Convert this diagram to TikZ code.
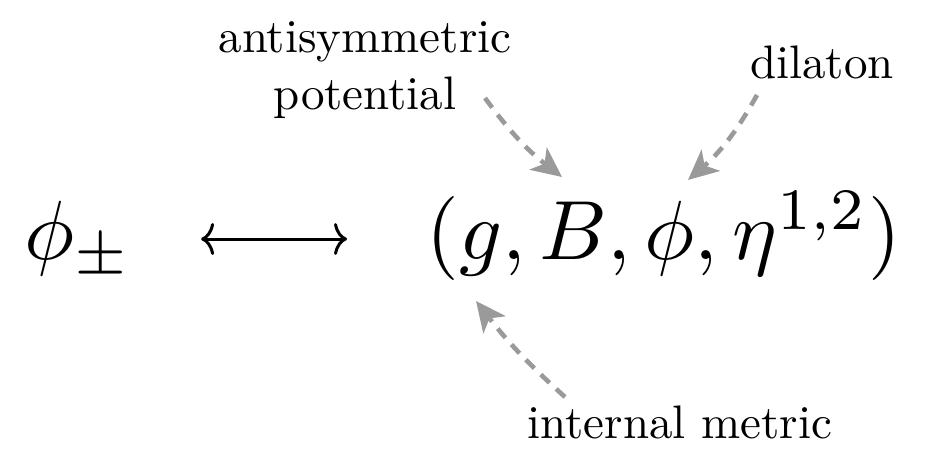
\documentclass[tikz,border=0pt]{standalone}
\usetikzlibrary{arrows.meta}
\definecolor{pgray}{HTML}{9A9A9A}

\begin{document}
\begin{tikzpicture}[x=1pt, y=1pt,
    tag/.style={align=center, inner sep=0pt, scale=4.7, transform shape},
    big/.style={inner sep=0pt, anchor=base west, scale=8.4, transform shape},
    dual/.style={{Computer Modern Rightarrow[length=13pt, width=32pt]}-{Computer Modern Rightarrow[length=13pt, width=32pt]}, line width=3pt},
    pointer/.style={-{Stealth[length=30pt, width=28pt, inset=8pt]}, line width=4.6pt, draw=pgray, dash pattern=on 12pt off 9pt}
  ]
    \useasboundingbox (0,0) rectangle (935,448);
    \node[big] (field) at (23,188) {$\phi_\pm$};
    \node[big] (tuple) at (425,188) {$(g,B,\phi,\eta^{1,2})$};
    \node[tag] (antisym) at (365,378) {antisymmetric\\potential};
    \node[tag] (dil) at (822,386) {dilaton};
    \node[tag] (intern) at (680,26) {internal metric};
    \coordinate (Bhead) at (562,271);
    \coordinate (phihead) at (688,268);
    \coordinate (ghead) at (476,147);
    \draw[dual] ([shift={(68,21)}]field.base east) -- ([shift={(-78,21)}]tuple.base west);
    \draw[pointer] ([shift={(120,-28)}]antisym.center) to[bend right=8] (Bhead);
    \draw[pointer] ([shift={(-65,-33)}]dil.center) to[bend left=10] (phihead);
    \draw[pointer] ([shift={(-115,25)}]intern.center) to[bend left=5] (ghead);
  \end{tikzpicture}
\end{document}
